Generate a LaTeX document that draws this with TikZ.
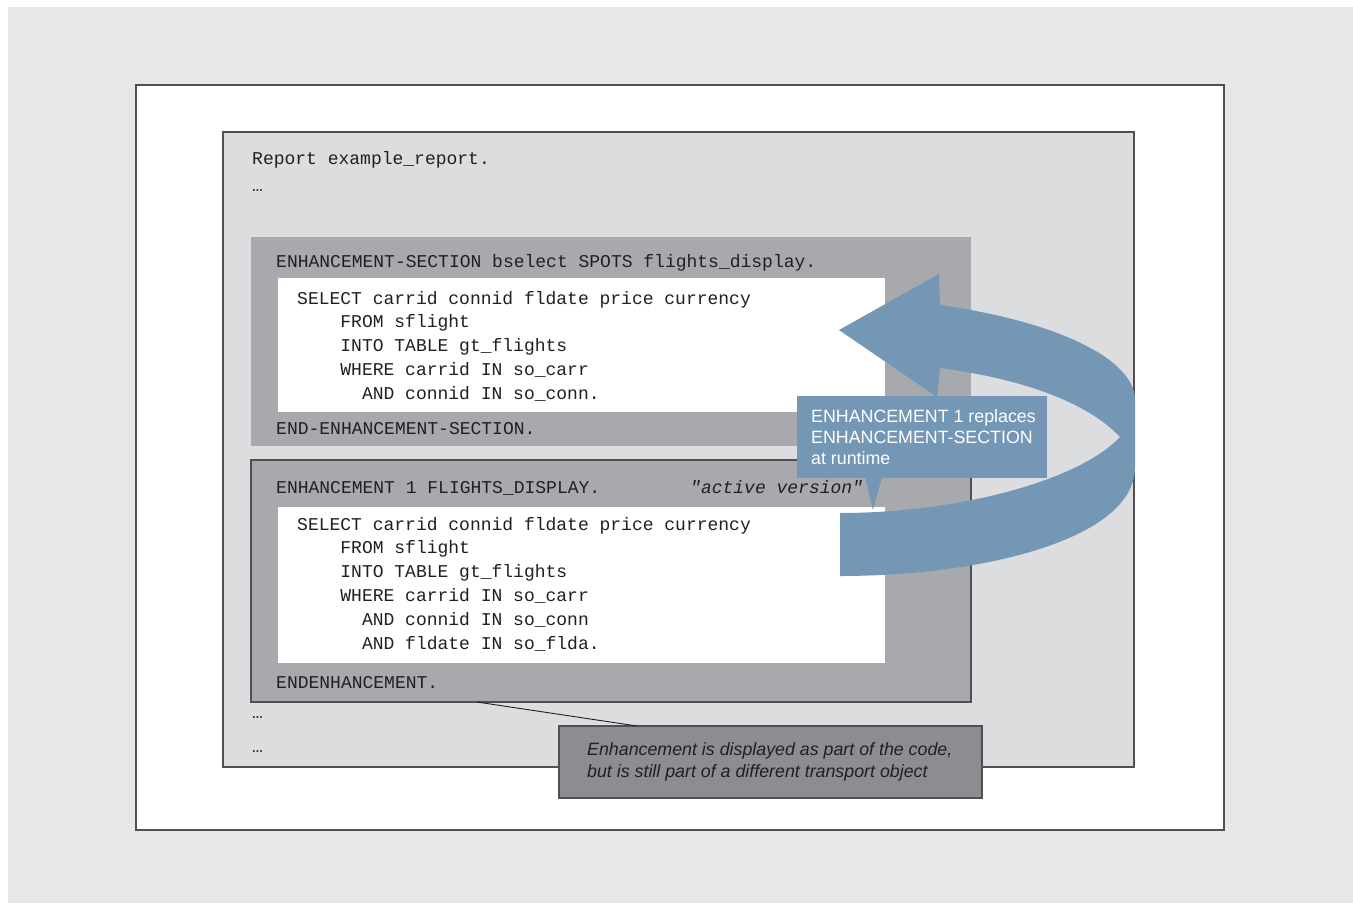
\documentclass[tikz,border=0pt]{standalone}
\usepackage{fontspec}
\setmainfont{Liberation Sans}
\setsansfont{Liberation Sans}
\setmonofont{Liberation Mono}
\definecolor{outerbg}{RGB}{230,231,232}
\definecolor{reportbg}{RGB}{220,221,223}
\definecolor{sectionbg}{RGB}{167,169,172}
\definecolor{notebg}{RGB}{139,141,144}
\definecolor{ink}{RGB}{35,31,32}
\definecolor{frame}{RGB}{80,80,82}
\definecolor{flowblue}{RGB}{117,151,182}
\newcommand{\codefont}{\fontsize{18}{24}\selectfont\ttfamily}
\newcommand{\notefont}{\fontsize{17.8}{21.5}\selectfont\sffamily}
\begin{document}
\begin{tikzpicture}[x=1pt,y=-1pt,
  panel/.style={rectangle, inner sep=0pt, outer sep=0pt, anchor=north west},
  codeline/.style={font=\codefont, text=ink, anchor=base west, inner sep=0pt},
  noteline/.style={font=\notefont, anchor=base west, inner sep=0pt}]
\useasboundingbox (0,0) rectangle (1353,903);

% page frames
\node[panel, fill=outerbg, minimum width=1345pt, minimum height=896pt] (page) at (8,7) {};
\node[panel, fill=white, draw=frame, line width=1.6pt, minimum width=1088pt, minimum height=745pt] (sheet) at (136,85) {};
\node[panel, fill=reportbg, draw=frame, line width=1.2pt, minimum width=911pt, minimum height=635pt] (report) at (223,132) {};

\node[codeline] (rep) at (252,164) {Report example\_report.};
\node[codeline] (dots1) at (252,191) {…};

% enhancement section
\node[panel, fill=sectionbg, minimum width=720pt, minimum height=209pt] (section) at (251,237) {};
\node[panel, fill=white, minimum width=607pt, minimum height=134pt] (sectioncode) at (278,278) {};
\node[codeline] (sechead) at (276,267) {ENHANCEMENT-SECTION bselect SPOTS flights\_display.};
\foreach [count=\i] \ind/\txt in {
    0/SELECT carrid connid fldate price currency,
    4/FROM sflight,
    4/INTO TABLE gt\_flights,
    4/WHERE carrid IN so\_carr,
    6/AND connid IN so\_conn.}
  \node[codeline] (sa\i) at ({297+10.8*\ind},{304+23.75*(\i-1)}) {\txt};
\node[codeline] (secend) at (276,434) {END-ENHANCEMENT-SECTION.};

% enhancement implementation
\node[panel, fill=sectionbg, draw=frame, line width=1.2pt, minimum width=720pt, minimum height=242pt] (enh) at (251,460) {};
\node[panel, fill=white, minimum width=607pt, minimum height=156pt] (enhcode) at (278,507) {};
\node[codeline] (enhhead) at (276,493) {ENHANCEMENT 1 FLIGHTS\_DISPLAY.};
\node[codeline, font=\codefont\itshape] (active) at (690,493) {"active version"};
\foreach [count=\i] \ind/\txt in {
    0/SELECT carrid connid fldate price currency,
    4/FROM sflight,
    4/INTO TABLE gt\_flights,
    4/WHERE carrid IN so\_carr,
    6/AND connid IN so\_conn,
    6/AND fldate IN so\_flda.}
  \node[codeline] (sb\i) at ({297+10.8*\ind},{530+23.8*(\i-1)}) {\txt};
\node[codeline] (enhend) at (276,688) {ENDENHANCEMENT.};
\node[codeline] (dots2) at (252,718) {…};
\node[codeline] (dots3) at (252,752) {…};

% replacement arrow
\fill[flowblue] (839,330) -- (939,274) -- (940,305)
  .. controls (1060,322) and (1135,360) .. (1135,400) -- (1135,467)
  .. controls (1135,540) and (980,576) .. (840,576) -- (840,513)
  .. controls (960,513) and (1080,480) .. (1120,437)
  .. controls (1090,405) and (1030,380) .. (940,368) -- (937,397) -- cycle;

% runtime note
\node[panel, fill=flowblue, minimum width=250pt, minimum height=82pt] (runtime) at (797,396) {};
\coordinate (ptr) at (873,510);
\fill[flowblue] (865,477) -- (882,477) -- (ptr) -- cycle;
\node[noteline, text=white] (rt1) at (811,422) {ENHANCEMENT 1 replaces};
\node[noteline, text=white] (rt2) at (811,443.5) {ENHANCEMENT-SECTION};
\node[noteline, text=white] (rt3) at (811,464.5) {at runtime};

% transport note
\node[panel, fill=notebg, draw=frame, line width=1.2pt, minimum width=423pt, minimum height=72pt] (transport) at (559,726) {};
\node[noteline, text=ink, font=\notefont\itshape] (tn1) at (587,755) {Enhancement is displayed as part of the code,};
\node[noteline, text=ink, font=\notefont\itshape] (tn2) at (587,777.5) {but is still part of a different transport object};
\coordinate (lfrom) at (477,702);
\coordinate (lto) at (637,726);
\draw[ink, line width=0.9pt] (lfrom) -- (lto);
\end{tikzpicture}
\end{document}
